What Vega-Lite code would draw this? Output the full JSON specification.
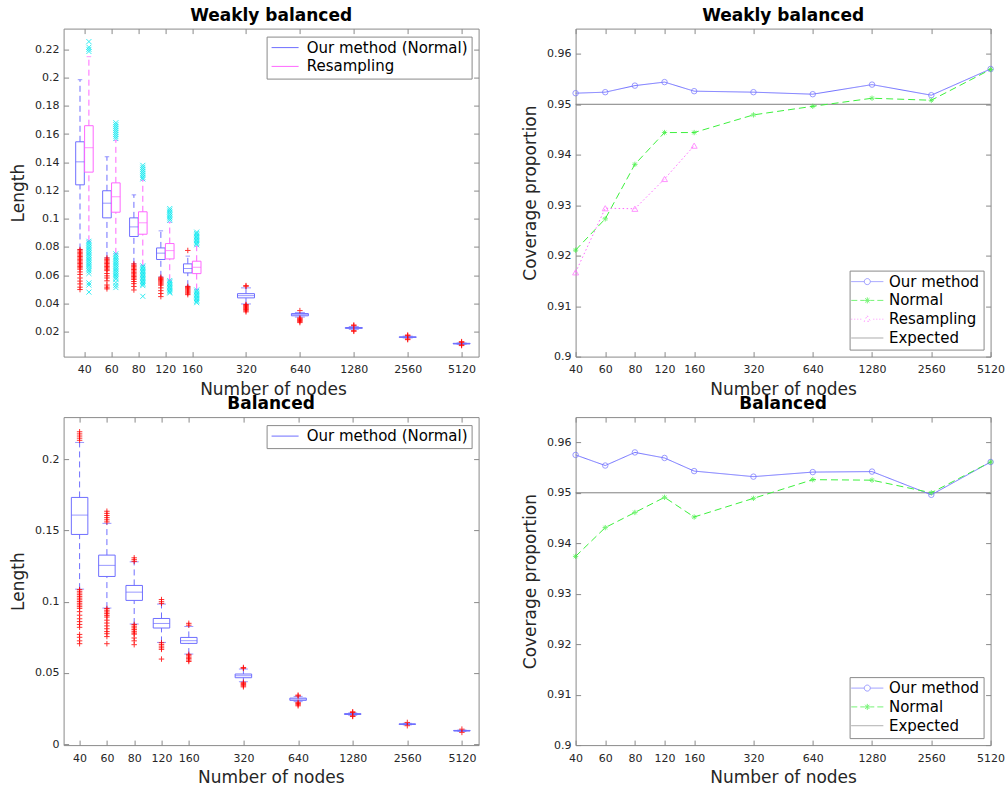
{
  "$schema": "https://vega.github.io/schema/vega-lite/v6.json",
  "padding": {"left": 8.6, "top": 5.6, "right": 0, "bottom": 0},
  "columns": 2,
  "spacing": {"row": 60.5, "column": 97},
  "bounds": "flush",
  "resolve": {"scale": {"color": "independent", "shape": "independent", "strokeDash": "independent"}, "legend": {"color": "independent", "shape": "independent", "strokeDash": "independent"}},
  "config": {
    "font": "DejaVu Sans",
    "view": {"stroke": "#8a8a8a", "strokeWidth": 1},
    "axis": {"grid": false, "domain": false, "ticks": true, "tickColor": "#8a8a8a", "tickSize": -5, "tickWidth": 1, "labelFont": "DejaVu Sans", "labelFontSize": 11, "labelColor": "#262626", "labelOverlap": false, "labelFlush": false, "titleFont": "DejaVu Sans", "titleFontSize": 17, "titleFontWeight": "normal", "titleColor": "#262626"},
    "axisX": {"labelPadding": 12, "titleY": 37.5, "titleBaseline": "alphabetic"},
    "axisY": {"labelPadding": 9.7, "titleX": -40, "titleBaseline": "alphabetic"},
    "legend": {"labelFont": "DejaVu Sans", "labelFontSize": 15, "labelColor": "#000000", "labelLimit": 400, "strokeColor": "#8a8a8a", "fillColor": "#ffffff", "padding": 3.5, "rowPadding": 2.8, "offset": 7.5, "symbolStrokeWidth": 1, "symbolSize": 196, "symbolOffset": 7.5, "labelOffset": 14.2},
    "title": {"font": "DejaVu Sans", "fontSize": 17, "fontWeight": "bold", "color": "#000000", "offset": 3.5, "baseline": "alphabetic"}
  },
  "datasets": {
    "boxTL": [
      {"method": "Our method (Normal)", "nodes": 40, "lo": 0.0782, "q1": 0.124, "med": 0.1403, "q3": 0.1545, "hi": 0.1985},
      {"method": "Resampling", "nodes": 40, "lo": 0.084, "q1": 0.133, "med": 0.1503, "q3": 0.1659, "hi": 0.2148},
      {"method": "Our method (Normal)", "nodes": 60, "lo": 0.0722, "q1": 0.1006, "med": 0.111, "q3": 0.1198, "hi": 0.1439},
      {"method": "Resampling", "nodes": 60, "lo": 0.0751, "q1": 0.1046, "med": 0.1155, "q3": 0.1254, "hi": 0.1555},
      {"method": "Our method (Normal)", "nodes": 80, "lo": 0.068, "q1": 0.0874, "med": 0.0942, "q3": 0.1006, "hi": 0.1169},
      {"method": "Resampling", "nodes": 80, "lo": 0.0668, "q1": 0.089, "med": 0.0971, "q3": 0.1049, "hi": 0.1273},
      {"method": "Our method (Normal)", "nodes": 120, "lo": 0.0588, "q1": 0.0711, "med": 0.0756, "q3": 0.0793, "hi": 0.0914},
      {"method": "Resampling", "nodes": 120, "lo": 0.0564, "q1": 0.0715, "med": 0.0774, "q3": 0.0824, "hi": 0.0975},
      {"method": "Our method (Normal)", "nodes": 160, "lo": 0.0522, "q1": 0.0616, "med": 0.0647, "q3": 0.068, "hi": 0.0735},
      {"method": "Resampling", "nodes": 160, "lo": 0.0498, "q1": 0.0611, "med": 0.0656, "q3": 0.0699, "hi": 0.0805},
      {"method": "Our method (Normal)", "nodes": 320, "lo": 0.0396, "q1": 0.0439, "med": 0.0455, "q3": 0.0469, "hi": 0.051},
      {"method": "Our method (Normal)", "nodes": 640, "lo": 0.0303, "q1": 0.0312, "med": 0.032, "q3": 0.0328, "hi": 0.0336},
      {"method": "Our method (Normal)", "nodes": 1280, "lo": 0.0216, "q1": 0.0223, "med": 0.0226, "q3": 0.0229, "hi": 0.0236},
      {"method": "Our method (Normal)", "nodes": 2560, "lo": 0.0155, "q1": 0.0159, "med": 0.0161, "q3": 0.0163, "hi": 0.0168},
      {"method": "Our method (Normal)", "nodes": 5120, "lo": 0.011, "q1": 0.0113, "med": 0.0115, "q3": 0.0117, "hi": 0.012}
    ],
    "outTL": [
      {"method": "Our method (Normal)", "nodes": 40, "value": 0.0782}, {"method": "Our method (Normal)", "nodes": 40, "value": 0.0772}, {"method": "Our method (Normal)", "nodes": 40, "value": 0.0762}, {"method": "Our method (Normal)", "nodes": 40, "value": 0.0752}, {"method": "Our method (Normal)", "nodes": 40, "value": 0.0742}, {"method": "Our method (Normal)", "nodes": 40, "value": 0.0732}, {"method": "Our method (Normal)", "nodes": 40, "value": 0.0722}, {"method": "Our method (Normal)", "nodes": 40, "value": 0.0712}, {"method": "Our method (Normal)", "nodes": 40, "value": 0.0702}, {"method": "Our method (Normal)", "nodes": 40, "value": 0.0692}, {"method": "Our method (Normal)", "nodes": 40, "value": 0.0682}, {"method": "Our method (Normal)", "nodes": 40, "value": 0.0672}, {"method": "Our method (Normal)", "nodes": 40, "value": 0.0662}, {"method": "Our method (Normal)", "nodes": 40, "value": 0.0652}, {"method": "Our method (Normal)", "nodes": 40, "value": 0.0642}, {"method": "Our method (Normal)", "nodes": 40, "value": 0.0623}, {"method": "Our method (Normal)", "nodes": 40, "value": 0.0605}, {"method": "Our method (Normal)", "nodes": 40, "value": 0.058}, {"method": "Our method (Normal)", "nodes": 40, "value": 0.0558}, {"method": "Our method (Normal)", "nodes": 40, "value": 0.0538}, {"method": "Our method (Normal)", "nodes": 40, "value": 0.0515}, {"method": "Our method (Normal)", "nodes": 40, "value": 0.0498},
      {"method": "Resampling", "nodes": 40, "value": 0.2255}, {"method": "Resampling", "nodes": 40, "value": 0.2215}, {"method": "Resampling", "nodes": 40, "value": 0.22}, {"method": "Resampling", "nodes": 40, "value": 0.2185}, {"method": "Resampling", "nodes": 40, "value": 0.084}, {"method": "Resampling", "nodes": 40, "value": 0.0828}, {"method": "Resampling", "nodes": 40, "value": 0.0816}, {"method": "Resampling", "nodes": 40, "value": 0.0804}, {"method": "Resampling", "nodes": 40, "value": 0.0792}, {"method": "Resampling", "nodes": 40, "value": 0.078}, {"method": "Resampling", "nodes": 40, "value": 0.0768}, {"method": "Resampling", "nodes": 40, "value": 0.0756}, {"method": "Resampling", "nodes": 40, "value": 0.0744}, {"method": "Resampling", "nodes": 40, "value": 0.0732}, {"method": "Resampling", "nodes": 40, "value": 0.072}, {"method": "Resampling", "nodes": 40, "value": 0.0708}, {"method": "Resampling", "nodes": 40, "value": 0.0696}, {"method": "Resampling", "nodes": 40, "value": 0.0684}, {"method": "Resampling", "nodes": 40, "value": 0.0672}, {"method": "Resampling", "nodes": 40, "value": 0.066}, {"method": "Resampling", "nodes": 40, "value": 0.0645}, {"method": "Resampling", "nodes": 40, "value": 0.063}, {"method": "Resampling", "nodes": 40, "value": 0.0612}, {"method": "Resampling", "nodes": 40, "value": 0.0545}, {"method": "Resampling", "nodes": 40, "value": 0.053}, {"method": "Resampling", "nodes": 40, "value": 0.048},
      {"method": "Our method (Normal)", "nodes": 60, "value": 0.0722}, {"method": "Our method (Normal)", "nodes": 60, "value": 0.0712}, {"method": "Our method (Normal)", "nodes": 60, "value": 0.0702}, {"method": "Our method (Normal)", "nodes": 60, "value": 0.0692}, {"method": "Our method (Normal)", "nodes": 60, "value": 0.0682}, {"method": "Our method (Normal)", "nodes": 60, "value": 0.0672}, {"method": "Our method (Normal)", "nodes": 60, "value": 0.0662}, {"method": "Our method (Normal)", "nodes": 60, "value": 0.0652}, {"method": "Our method (Normal)", "nodes": 60, "value": 0.0642}, {"method": "Our method (Normal)", "nodes": 60, "value": 0.0632}, {"method": "Our method (Normal)", "nodes": 60, "value": 0.0612}, {"method": "Our method (Normal)", "nodes": 60, "value": 0.0595}, {"method": "Our method (Normal)", "nodes": 60, "value": 0.058}, {"method": "Our method (Normal)", "nodes": 60, "value": 0.056}, {"method": "Our method (Normal)", "nodes": 60, "value": 0.053}, {"method": "Our method (Normal)", "nodes": 60, "value": 0.0515}, {"method": "Our method (Normal)", "nodes": 60, "value": 0.0503},
      {"method": "Resampling", "nodes": 60, "value": 0.168}, {"method": "Resampling", "nodes": 60, "value": 0.1666}, {"method": "Resampling", "nodes": 60, "value": 0.1652}, {"method": "Resampling", "nodes": 60, "value": 0.1638}, {"method": "Resampling", "nodes": 60, "value": 0.1624}, {"method": "Resampling", "nodes": 60, "value": 0.161}, {"method": "Resampling", "nodes": 60, "value": 0.1596}, {"method": "Resampling", "nodes": 60, "value": 0.1582}, {"method": "Resampling", "nodes": 60, "value": 0.1568}, {"method": "Resampling", "nodes": 60, "value": 0.0751}, {"method": "Resampling", "nodes": 60, "value": 0.0739}, {"method": "Resampling", "nodes": 60, "value": 0.0727}, {"method": "Resampling", "nodes": 60, "value": 0.0715}, {"method": "Resampling", "nodes": 60, "value": 0.0703}, {"method": "Resampling", "nodes": 60, "value": 0.0691}, {"method": "Resampling", "nodes": 60, "value": 0.0679}, {"method": "Resampling", "nodes": 60, "value": 0.0667}, {"method": "Resampling", "nodes": 60, "value": 0.0655}, {"method": "Resampling", "nodes": 60, "value": 0.0643}, {"method": "Resampling", "nodes": 60, "value": 0.0631}, {"method": "Resampling", "nodes": 60, "value": 0.0619}, {"method": "Resampling", "nodes": 60, "value": 0.0607}, {"method": "Resampling", "nodes": 60, "value": 0.0595}, {"method": "Resampling", "nodes": 60, "value": 0.0583}, {"method": "Resampling", "nodes": 60, "value": 0.0571}, {"method": "Resampling", "nodes": 60, "value": 0.0548}, {"method": "Resampling", "nodes": 60, "value": 0.0528}, {"method": "Resampling", "nodes": 60, "value": 0.0512},
      {"method": "Our method (Normal)", "nodes": 80, "value": 0.068}, {"method": "Our method (Normal)", "nodes": 80, "value": 0.067}, {"method": "Our method (Normal)", "nodes": 80, "value": 0.066}, {"method": "Our method (Normal)", "nodes": 80, "value": 0.065}, {"method": "Our method (Normal)", "nodes": 80, "value": 0.064}, {"method": "Our method (Normal)", "nodes": 80, "value": 0.063}, {"method": "Our method (Normal)", "nodes": 80, "value": 0.062}, {"method": "Our method (Normal)", "nodes": 80, "value": 0.061}, {"method": "Our method (Normal)", "nodes": 80, "value": 0.06}, {"method": "Our method (Normal)", "nodes": 80, "value": 0.059}, {"method": "Our method (Normal)", "nodes": 80, "value": 0.058}, {"method": "Our method (Normal)", "nodes": 80, "value": 0.057}, {"method": "Our method (Normal)", "nodes": 80, "value": 0.0555}, {"method": "Our method (Normal)", "nodes": 80, "value": 0.054}, {"method": "Our method (Normal)", "nodes": 80, "value": 0.052}, {"method": "Our method (Normal)", "nodes": 80, "value": 0.0495},
      {"method": "Resampling", "nodes": 80, "value": 0.1378}, {"method": "Resampling", "nodes": 80, "value": 0.1364}, {"method": "Resampling", "nodes": 80, "value": 0.135}, {"method": "Resampling", "nodes": 80, "value": 0.1336}, {"method": "Resampling", "nodes": 80, "value": 0.1322}, {"method": "Resampling", "nodes": 80, "value": 0.1308}, {"method": "Resampling", "nodes": 80, "value": 0.1294}, {"method": "Resampling", "nodes": 80, "value": 0.1282}, {"method": "Resampling", "nodes": 80, "value": 0.0666}, {"method": "Resampling", "nodes": 80, "value": 0.0656}, {"method": "Resampling", "nodes": 80, "value": 0.0646}, {"method": "Resampling", "nodes": 80, "value": 0.0636}, {"method": "Resampling", "nodes": 80, "value": 0.0626}, {"method": "Resampling", "nodes": 80, "value": 0.0616}, {"method": "Resampling", "nodes": 80, "value": 0.0606}, {"method": "Resampling", "nodes": 80, "value": 0.0596}, {"method": "Resampling", "nodes": 80, "value": 0.0586}, {"method": "Resampling", "nodes": 80, "value": 0.0576}, {"method": "Resampling", "nodes": 80, "value": 0.0566}, {"method": "Resampling", "nodes": 80, "value": 0.0556}, {"method": "Resampling", "nodes": 80, "value": 0.0546}, {"method": "Resampling", "nodes": 80, "value": 0.0536}, {"method": "Resampling", "nodes": 80, "value": 0.0526}, {"method": "Resampling", "nodes": 80, "value": 0.045},
      {"method": "Our method (Normal)", "nodes": 120, "value": 0.0585}, {"method": "Our method (Normal)", "nodes": 120, "value": 0.0577}, {"method": "Our method (Normal)", "nodes": 120, "value": 0.0569}, {"method": "Our method (Normal)", "nodes": 120, "value": 0.0561}, {"method": "Our method (Normal)", "nodes": 120, "value": 0.0553}, {"method": "Our method (Normal)", "nodes": 120, "value": 0.0545}, {"method": "Our method (Normal)", "nodes": 120, "value": 0.0537}, {"method": "Our method (Normal)", "nodes": 120, "value": 0.0529}, {"method": "Our method (Normal)", "nodes": 120, "value": 0.051}, {"method": "Our method (Normal)", "nodes": 120, "value": 0.049}, {"method": "Our method (Normal)", "nodes": 120, "value": 0.047}, {"method": "Our method (Normal)", "nodes": 120, "value": 0.0448},
      {"method": "Resampling", "nodes": 120, "value": 0.1072}, {"method": "Resampling", "nodes": 120, "value": 0.106}, {"method": "Resampling", "nodes": 120, "value": 0.1048}, {"method": "Resampling", "nodes": 120, "value": 0.1036}, {"method": "Resampling", "nodes": 120, "value": 0.1024}, {"method": "Resampling", "nodes": 120, "value": 0.1012}, {"method": "Resampling", "nodes": 120, "value": 0.1}, {"method": "Resampling", "nodes": 120, "value": 0.0988}, {"method": "Resampling", "nodes": 120, "value": 0.0562}, {"method": "Resampling", "nodes": 120, "value": 0.0552}, {"method": "Resampling", "nodes": 120, "value": 0.0542}, {"method": "Resampling", "nodes": 120, "value": 0.0532}, {"method": "Resampling", "nodes": 120, "value": 0.0522}, {"method": "Resampling", "nodes": 120, "value": 0.0512}, {"method": "Resampling", "nodes": 120, "value": 0.0502}, {"method": "Resampling", "nodes": 120, "value": 0.0492}, {"method": "Resampling", "nodes": 120, "value": 0.0482}, {"method": "Resampling", "nodes": 120, "value": 0.0474},
      {"method": "Our method (Normal)", "nodes": 160, "value": 0.0775}, {"method": "Our method (Normal)", "nodes": 160, "value": 0.052}, {"method": "Our method (Normal)", "nodes": 160, "value": 0.0512}, {"method": "Our method (Normal)", "nodes": 160, "value": 0.0504}, {"method": "Our method (Normal)", "nodes": 160, "value": 0.0496}, {"method": "Our method (Normal)", "nodes": 160, "value": 0.0488}, {"method": "Our method (Normal)", "nodes": 160, "value": 0.048}, {"method": "Our method (Normal)", "nodes": 160, "value": 0.0472}, {"method": "Our method (Normal)", "nodes": 160, "value": 0.0462},
      {"method": "Resampling", "nodes": 160, "value": 0.0905}, {"method": "Resampling", "nodes": 160, "value": 0.0895}, {"method": "Resampling", "nodes": 160, "value": 0.0885}, {"method": "Resampling", "nodes": 160, "value": 0.0875}, {"method": "Resampling", "nodes": 160, "value": 0.0865}, {"method": "Resampling", "nodes": 160, "value": 0.0855}, {"method": "Resampling", "nodes": 160, "value": 0.0845}, {"method": "Resampling", "nodes": 160, "value": 0.0835}, {"method": "Resampling", "nodes": 160, "value": 0.0825}, {"method": "Resampling", "nodes": 160, "value": 0.0815}, {"method": "Resampling", "nodes": 160, "value": 0.0495}, {"method": "Resampling", "nodes": 160, "value": 0.0485}, {"method": "Resampling", "nodes": 160, "value": 0.0475}, {"method": "Resampling", "nodes": 160, "value": 0.0465}, {"method": "Resampling", "nodes": 160, "value": 0.0455}, {"method": "Resampling", "nodes": 160, "value": 0.0445}, {"method": "Resampling", "nodes": 160, "value": 0.0435}, {"method": "Resampling", "nodes": 160, "value": 0.0425}, {"method": "Resampling", "nodes": 160, "value": 0.0415}, {"method": "Resampling", "nodes": 160, "value": 0.0405},
      {"method": "Our method (Normal)", "nodes": 320, "value": 0.0526}, {"method": "Our method (Normal)", "nodes": 320, "value": 0.0521}, {"method": "Our method (Normal)", "nodes": 320, "value": 0.0392}, {"method": "Our method (Normal)", "nodes": 320, "value": 0.0386}, {"method": "Our method (Normal)", "nodes": 320, "value": 0.038}, {"method": "Our method (Normal)", "nodes": 320, "value": 0.0374}, {"method": "Our method (Normal)", "nodes": 320, "value": 0.0368}, {"method": "Our method (Normal)", "nodes": 320, "value": 0.0362}, {"method": "Our method (Normal)", "nodes": 320, "value": 0.0356}, {"method": "Our method (Normal)", "nodes": 320, "value": 0.0348}, {"method": "Our method (Normal)", "nodes": 320, "value": 0.034},
      {"method": "Our method (Normal)", "nodes": 640, "value": 0.0349}, {"method": "Our method (Normal)", "nodes": 640, "value": 0.0297}, {"method": "Our method (Normal)", "nodes": 640, "value": 0.0291}, {"method": "Our method (Normal)", "nodes": 640, "value": 0.0285}, {"method": "Our method (Normal)", "nodes": 640, "value": 0.0279}, {"method": "Our method (Normal)", "nodes": 640, "value": 0.0272}, {"method": "Our method (Normal)", "nodes": 640, "value": 0.0264},
      {"method": "Our method (Normal)", "nodes": 1280, "value": 0.0247}, {"method": "Our method (Normal)", "nodes": 1280, "value": 0.0242}, {"method": "Our method (Normal)", "nodes": 1280, "value": 0.0207}, {"method": "Our method (Normal)", "nodes": 1280, "value": 0.0202},
      {"method": "Our method (Normal)", "nodes": 2560, "value": 0.0176}, {"method": "Our method (Normal)", "nodes": 2560, "value": 0.0171}, {"method": "Our method (Normal)", "nodes": 2560, "value": 0.0148}, {"method": "Our method (Normal)", "nodes": 2560, "value": 0.0143},
      {"method": "Our method (Normal)", "nodes": 5120, "value": 0.0129}, {"method": "Our method (Normal)", "nodes": 5120, "value": 0.0124}, {"method": "Our method (Normal)", "nodes": 5120, "value": 0.0106}, {"method": "Our method (Normal)", "nodes": 5120, "value": 0.0101}
    ],
    "boxBL": [
      {"method": "Our method (Normal)", "nodes": 40, "lo": 0.1088, "q1": 0.1472, "med": 0.1608, "q3": 0.1732, "hi": 0.2118},
      {"method": "Our method (Normal)", "nodes": 60, "lo": 0.0955, "q1": 0.1177, "med": 0.1255, "q3": 0.1327, "hi": 0.155},
      {"method": "Our method (Normal)", "nodes": 80, "lo": 0.0843, "q1": 0.1009, "med": 0.1067, "q3": 0.1114, "hi": 0.128},
      {"method": "Our method (Normal)", "nodes": 120, "lo": 0.0714, "q1": 0.0815, "med": 0.0847, "q3": 0.0882, "hi": 0.0983},
      {"method": "Our method (Normal)", "nodes": 160, "lo": 0.0632, "q1": 0.0707, "med": 0.0726, "q3": 0.0749, "hi": 0.0826},
      {"method": "Our method (Normal)", "nodes": 320, "lo": 0.0438, "q1": 0.0466, "med": 0.048, "q3": 0.0492, "hi": 0.0527},
      {"method": "Our method (Normal)", "nodes": 640, "lo": 0.0298, "q1": 0.0307, "med": 0.0316, "q3": 0.0323, "hi": 0.0335},
      {"method": "Our method (Normal)", "nodes": 1280, "lo": 0.0203, "q1": 0.0208, "med": 0.0211, "q3": 0.0214, "hi": 0.0219},
      {"method": "Our method (Normal)", "nodes": 2560, "lo": 0.0135, "q1": 0.0138, "med": 0.014, "q3": 0.0142, "hi": 0.0146},
      {"method": "Our method (Normal)", "nodes": 5120, "lo": 0.0089, "q1": 0.0092, "med": 0.0094, "q3": 0.0096, "hi": 0.0099}
    ],
    "outBL": [
      {"nodes": 40, "value": 0.2193}, {"nodes": 40, "value": 0.2178}, {"nodes": 40, "value": 0.2163}, {"nodes": 40, "value": 0.2148}, {"nodes": 40, "value": 0.2133}, {"nodes": 40, "value": 0.1085}, {"nodes": 40, "value": 0.1073}, {"nodes": 40, "value": 0.1061}, {"nodes": 40, "value": 0.1049}, {"nodes": 40, "value": 0.1037}, {"nodes": 40, "value": 0.1025}, {"nodes": 40, "value": 0.1013}, {"nodes": 40, "value": 0.1001}, {"nodes": 40, "value": 0.0989}, {"nodes": 40, "value": 0.0977}, {"nodes": 40, "value": 0.0965}, {"nodes": 40, "value": 0.0953}, {"nodes": 40, "value": 0.093}, {"nodes": 40, "value": 0.0905}, {"nodes": 40, "value": 0.088}, {"nodes": 40, "value": 0.086}, {"nodes": 40, "value": 0.084}, {"nodes": 40, "value": 0.082}, {"nodes": 40, "value": 0.077}, {"nodes": 40, "value": 0.075}, {"nodes": 40, "value": 0.0725}, {"nodes": 40, "value": 0.0705},
      {"nodes": 60, "value": 0.1635}, {"nodes": 60, "value": 0.162}, {"nodes": 60, "value": 0.1605}, {"nodes": 60, "value": 0.159}, {"nodes": 60, "value": 0.1575}, {"nodes": 60, "value": 0.156}, {"nodes": 60, "value": 0.0952}, {"nodes": 60, "value": 0.094}, {"nodes": 60, "value": 0.0928}, {"nodes": 60, "value": 0.0916}, {"nodes": 60, "value": 0.0904}, {"nodes": 60, "value": 0.0892}, {"nodes": 60, "value": 0.087}, {"nodes": 60, "value": 0.085}, {"nodes": 60, "value": 0.083}, {"nodes": 60, "value": 0.081}, {"nodes": 60, "value": 0.079}, {"nodes": 60, "value": 0.0775}, {"nodes": 60, "value": 0.0755}, {"nodes": 60, "value": 0.0705},
      {"nodes": 80, "value": 0.1308}, {"nodes": 80, "value": 0.1295}, {"nodes": 80, "value": 0.1283}, {"nodes": 80, "value": 0.084}, {"nodes": 80, "value": 0.0828}, {"nodes": 80, "value": 0.0816}, {"nodes": 80, "value": 0.0804}, {"nodes": 80, "value": 0.0792}, {"nodes": 80, "value": 0.078}, {"nodes": 80, "value": 0.0772}, {"nodes": 80, "value": 0.0745}, {"nodes": 80, "value": 0.0725}, {"nodes": 80, "value": 0.0698},
      {"nodes": 120, "value": 0.1015}, {"nodes": 120, "value": 0.1}, {"nodes": 120, "value": 0.0988}, {"nodes": 120, "value": 0.0712}, {"nodes": 120, "value": 0.07}, {"nodes": 120, "value": 0.0688}, {"nodes": 120, "value": 0.0676}, {"nodes": 120, "value": 0.0665}, {"nodes": 120, "value": 0.0597},
      {"nodes": 160, "value": 0.0848}, {"nodes": 160, "value": 0.0835}, {"nodes": 160, "value": 0.063}, {"nodes": 160, "value": 0.062}, {"nodes": 160, "value": 0.061}, {"nodes": 160, "value": 0.06}, {"nodes": 160, "value": 0.059}, {"nodes": 160, "value": 0.058},
      {"nodes": 320, "value": 0.0538}, {"nodes": 320, "value": 0.0532}, {"nodes": 320, "value": 0.0434}, {"nodes": 320, "value": 0.0426}, {"nodes": 320, "value": 0.0418}, {"nodes": 320, "value": 0.041}, {"nodes": 320, "value": 0.0402},
      {"nodes": 640, "value": 0.0344}, {"nodes": 640, "value": 0.0338}, {"nodes": 640, "value": 0.0293}, {"nodes": 640, "value": 0.0285}, {"nodes": 640, "value": 0.0277}, {"nodes": 640, "value": 0.0269},
      {"nodes": 1280, "value": 0.0227}, {"nodes": 1280, "value": 0.0222}, {"nodes": 1280, "value": 0.0198}, {"nodes": 1280, "value": 0.0194},
      {"nodes": 2560, "value": 0.0152}, {"nodes": 2560, "value": 0.0129},
      {"nodes": 5120, "value": 0.0105}, {"nodes": 5120, "value": 0.0082}
    ],
    "covTR": [
      {"method": "Our method", "nodes": 40, "coverage": 0.9522}, {"method": "Our method", "nodes": 60, "coverage": 0.9524}, {"method": "Our method", "nodes": 80, "coverage": 0.9537}, {"method": "Our method", "nodes": 120, "coverage": 0.9544}, {"method": "Our method", "nodes": 160, "coverage": 0.9526}, {"method": "Our method", "nodes": 320, "coverage": 0.9524}, {"method": "Our method", "nodes": 640, "coverage": 0.952}, {"method": "Our method", "nodes": 1280, "coverage": 0.9539}, {"method": "Our method", "nodes": 2560, "coverage": 0.9518}, {"method": "Our method", "nodes": 5120, "coverage": 0.957},
      {"method": "Normal", "nodes": 40, "coverage": 0.9211}, {"method": "Normal", "nodes": 60, "coverage": 0.9273}, {"method": "Normal", "nodes": 80, "coverage": 0.9381}, {"method": "Normal", "nodes": 120, "coverage": 0.9444}, {"method": "Normal", "nodes": 160, "coverage": 0.9444}, {"method": "Normal", "nodes": 320, "coverage": 0.9479}, {"method": "Normal", "nodes": 640, "coverage": 0.9496}, {"method": "Normal", "nodes": 1280, "coverage": 0.9512}, {"method": "Normal", "nodes": 2560, "coverage": 0.9508}, {"method": "Normal", "nodes": 5120, "coverage": 0.9569},
      {"method": "Resampling", "nodes": 40, "coverage": 0.9167}, {"method": "Resampling", "nodes": 60, "coverage": 0.9294}, {"method": "Resampling", "nodes": 80, "coverage": 0.9293}, {"method": "Resampling", "nodes": 120, "coverage": 0.9352}, {"method": "Resampling", "nodes": 160, "coverage": 0.9418}
    ],
    "covBR": [
      {"method": "Our method", "nodes": 40, "coverage": 0.9575}, {"method": "Our method", "nodes": 60, "coverage": 0.9554}, {"method": "Our method", "nodes": 80, "coverage": 0.958}, {"method": "Our method", "nodes": 120, "coverage": 0.9569}, {"method": "Our method", "nodes": 160, "coverage": 0.9543}, {"method": "Our method", "nodes": 320, "coverage": 0.9532}, {"method": "Our method", "nodes": 640, "coverage": 0.9541}, {"method": "Our method", "nodes": 1280, "coverage": 0.9542}, {"method": "Our method", "nodes": 2560, "coverage": 0.9496}, {"method": "Our method", "nodes": 5120, "coverage": 0.9561},
      {"method": "Normal", "nodes": 40, "coverage": 0.9374}, {"method": "Normal", "nodes": 60, "coverage": 0.9431}, {"method": "Normal", "nodes": 80, "coverage": 0.9461}, {"method": "Normal", "nodes": 120, "coverage": 0.9491}, {"method": "Normal", "nodes": 160, "coverage": 0.9452}, {"method": "Normal", "nodes": 320, "coverage": 0.9489}, {"method": "Normal", "nodes": 640, "coverage": 0.9526}, {"method": "Normal", "nodes": 1280, "coverage": 0.9525}, {"method": "Normal", "nodes": 2560, "coverage": 0.95}, {"method": "Normal", "nodes": 5120, "coverage": 0.9561}
    ],
    "expected": [{"method": "Expected", "coverage": 0.95}]
  },
  "concat": [
    {
      "width": 415, "height": 328,
      "title": {"text": "Weakly balanced"},
      "layer": [
        {"data": {"name": "boxTL"},
         "mark": {"type": "bar", "filled": false, "strokeWidth": 1, "width": {"expr": "datum.nodes >= 320 ? 17 : 8.6"}, "xOffset": {"expr": "datum.nodes >= 320 ? 0 : (datum.method === 'Resampling' ? 4.6 : -4.3)"}},
         "encoding": {
           "x": {"field": "nodes", "type": "quantitative", "scale": {"domain": [40, 80, 160, 320, 640, 1280, 2560, 5120], "range": [20.7, 74.6, 128.5, 182.4, 236.3, 290.2, 344.1, 398], "nice": false, "zero": false, "padding": 0}, "axis": {"orient": "bottom", "values": [40, 60, 80, 120, 160, 320, 640, 1280, 2560, 5120], "format": "d", "title": "Number of nodes"}},
           "y": {"field": "q1", "type": "quantitative", "scale": {"domain": [0.0023, 0.2347], "nice": false, "zero": false, "padding": 0}, "axis": {"orient": "left", "values": [0.02, 0.04, 0.06, 0.08, 0.1, 0.12, 0.14, 0.16, 0.18, 0.2, 0.22], "format": "~g", "title": "Length"}},
           "y2": {"field": "q3"},
           "color": {"field": "method", "type": "nominal", "scale": {"domain": ["Our method (Normal)", "Resampling"], "range": ["#6e6eff", "#ff66ff"]}, "legend": {"title": null, "orient": "top-right", "symbolType": "M-1.93,0H1.93", "symbolOffset": 7.5}}
         }},
        {"data": {"name": "boxTL"},
         "mark": {"type": "tick", "orient": "horizontal", "thickness": 1, "size": {"expr": "datum.nodes >= 320 ? 17 : 8.6"}, "xOffset": {"expr": "datum.nodes >= 320 ? 0 : (datum.method === 'Resampling' ? 4.6 : -4.3)"}},
         "encoding": {
           "x": {"field": "nodes", "type": "quantitative", "axis": null},
           "y": {"field": "med", "type": "quantitative", "axis": null},
           "color": {"field": "method", "type": "nominal", "legend": null}
         }},
        {"data": {"name": "boxTL"},
         "mark": {"type": "rule", "strokeWidth": 1, "strokeDash": [6, 4], "xOffset": {"expr": "datum.nodes >= 320 ? 0 : (datum.method === 'Resampling' ? 4.6 : -4.3)"}},
         "encoding": {
           "x": {"field": "nodes", "type": "quantitative", "axis": null},
           "y": {"field": "q3", "type": "quantitative", "axis": null},
           "y2": {"field": "hi"},
           "color": {"field": "method", "type": "nominal", "legend": null}
         }},
        {"data": {"name": "boxTL"},
         "mark": {"type": "rule", "strokeWidth": 1, "strokeDash": [6, 4], "xOffset": {"expr": "datum.nodes >= 320 ? 0 : (datum.method === 'Resampling' ? 4.6 : -4.3)"}},
         "encoding": {
           "x": {"field": "nodes", "type": "quantitative", "axis": null},
           "y": {"field": "lo", "type": "quantitative", "axis": null},
           "y2": {"field": "q1"},
           "color": {"field": "method", "type": "nominal", "legend": null}
         }},
        {"data": {"name": "boxTL"},
         "mark": {"type": "tick", "orient": "horizontal", "thickness": 1, "size": {"expr": "datum.nodes >= 320 ? 10 : 4.5"}, "xOffset": {"expr": "datum.nodes >= 320 ? 0 : (datum.method === 'Resampling' ? 4.6 : -4.3)"}},
         "encoding": {
           "x": {"field": "nodes", "type": "quantitative", "axis": null},
           "y": {"field": "hi", "type": "quantitative", "axis": null},
           "color": {"field": "method", "type": "nominal", "legend": null}
         }},
        {"data": {"name": "boxTL"},
         "mark": {"type": "tick", "orient": "horizontal", "thickness": 1, "size": {"expr": "datum.nodes >= 320 ? 10 : 4.5"}, "xOffset": {"expr": "datum.nodes >= 320 ? 0 : (datum.method === 'Resampling' ? 4.6 : -4.3)"}},
         "encoding": {
           "x": {"field": "nodes", "type": "quantitative", "axis": null},
           "y": {"field": "lo", "type": "quantitative", "axis": null},
           "color": {"field": "method", "type": "nominal", "legend": null}
         }},
        {"data": {"name": "outTL"},
         "transform": [{"filter": "datum.method === 'Our method (Normal)'"}],
         "mark": {"type": "point", "shape": "M-1,0H1M0,-1V1", "size": 30, "filled": false, "color": "#ff0000", "strokeWidth": 1, "opacity": 0.8, "xOffset": {"expr": "datum.nodes >= 320 ? 0 : -4.3"}},
         "encoding": {
           "x": {"field": "nodes", "type": "quantitative", "axis": {"orient": "top", "values": [40, 60, 80, 120, 160, 320, 640, 1280, 2560, 5120], "labels": false, "title": null}},
           "y": {"field": "value", "type": "quantitative", "axis": {"orient": "right", "values": [0.02, 0.04, 0.06, 0.08, 0.1, 0.12, 0.14, 0.16, 0.18, 0.2, 0.22], "labels": false, "title": null}}
         }},
        {"data": {"name": "outTL"},
         "transform": [{"filter": "datum.method === 'Resampling'"}],
         "mark": {"type": "point", "shape": "M-1,-1L1,1M-1,1L1,-1", "size": 25, "filled": false, "color": "#00e8f0", "strokeWidth": 1, "opacity": 0.8, "xOffset": 4.6},
         "encoding": {
           "x": {"field": "nodes", "type": "quantitative", "axis": null},
           "y": {"field": "value", "type": "quantitative", "axis": null}
         }}
      ]
    },
    {
      "width": 415, "height": 328,
      "title": {"text": "Weakly balanced"},
      "layer": [
        {"data": {"name": "covTR"},
         "mark": {"type": "point", "filled": false, "strokeWidth": 1, "size": 0},
         "encoding": {
           "x": {"field": "nodes", "type": "quantitative", "scale": {"domain": [40, 80, 160, 320, 640, 1280, 2560, 5120], "range": [0, 59.29, 118.57, 177.86, 237.14, 296.43, 355.71, 415], "nice": false, "zero": false, "padding": 0}, "axis": null},
           "y": {"field": "coverage", "type": "quantitative", "scale": {"domain": [0.9, 0.965], "nice": false, "zero": false, "padding": 0}, "axis": null},
           "color": {"field": "method", "type": "nominal", "scale": {"domain": ["Our method", "Normal", "Resampling", "Expected"], "range": ["#6e6eff", "#3cf03c", "#ff66ff", "#808080"]}, "legend": {"title": null, "orient": "bottom-right", "symbolOffset": 6.7}},
           "shape": {"field": "method", "type": "nominal", "scale": {"domain": ["Our method", "Normal", "Resampling", "Expected"], "range": ["M-2.29,0H-0.43M0.43,0H2.29M0.43,0A0.43,0.43,0,1,1,-0.43,0A0.43,0.43,0,1,1,0.43,0", "M-2.29,0H-1.43M-1,0H-0.43M0.43,0H1M1.43,0H2.29M-0.43,0H0.43M0,-0.43V0.43M-0.3,-0.3L0.3,0.3M-0.3,0.3L0.3,-0.3", "M-2.29,0H-2.15M-1.86,0H-1.72M-1.43,0H-1.29M-1,0H-0.86M0.86,0H1M1.29,0H1.43M1.72,0H1.86M2.15,0H2.29M0,-0.5L0.45,0.3H-0.45Z", "M-2.29,0H2.29"]}, "legend": {"title": null, "orient": "bottom-right", "symbolOffset": 6.7}}
         }},
        {"data": {"name": "expected"},
         "mark": {"type": "rule", "strokeWidth": 1},
         "encoding": {
           "y": {"field": "coverage", "type": "quantitative", "axis": null},
           "color": {"field": "method", "type": "nominal", "legend": null}
         }},
        {"data": {"name": "covTR"},
         "mark": {"type": "line", "strokeWidth": 1},
         "encoding": {
           "x": {"field": "nodes", "type": "quantitative", "axis": {"orient": "bottom", "values": [40, 60, 80, 120, 160, 320, 640, 1280, 2560, 5120], "format": "d", "title": "Number of nodes"}},
           "y": {"field": "coverage", "type": "quantitative", "axis": {"orient": "left", "values": [0.9, 0.91, 0.92, 0.93, 0.94, 0.95, 0.96], "format": "~g", "title": "Coverage proportion"}},
           "color": {"field": "method", "type": "nominal", "legend": null},
           "strokeDash": {"field": "method", "type": "nominal", "scale": {"domain": ["Our method", "Normal", "Resampling", "Expected"], "range": [[1, 0], [7, 4], [1.5, 2.5], [1, 0]]}, "legend": null}
         }},
        {"data": {"name": "covTR"},
         "transform": [{"filter": "datum.method === 'Our method'"}],
         "mark": {"type": "point", "shape": "circle", "size": 30, "filled": false, "strokeWidth": 1},
         "encoding": {
           "x": {"field": "nodes", "type": "quantitative", "axis": {"orient": "top", "values": [40, 60, 80, 120, 160, 320, 640, 1280, 2560, 5120], "labels": false, "title": null}},
           "y": {"field": "coverage", "type": "quantitative", "axis": {"orient": "right", "values": [0.9, 0.91, 0.92, 0.93, 0.94, 0.95, 0.96], "labels": false, "title": null}},
           "color": {"field": "method", "type": "nominal", "legend": null}
         }},
        {"data": {"name": "covTR"},
         "transform": [{"filter": "datum.method === 'Normal'"}],
         "mark": {"type": "point", "shape": "M-1,0H1M0,-1V1M-0.7,-0.7L0.7,0.7M-0.7,0.7L0.7,-0.7", "size": 28, "filled": false, "strokeWidth": 1},
         "encoding": {
           "x": {"field": "nodes", "type": "quantitative", "axis": null},
           "y": {"field": "coverage", "type": "quantitative", "axis": null},
           "color": {"field": "method", "type": "nominal", "legend": null}
         }},
        {"data": {"name": "covTR"},
         "transform": [{"filter": "datum.method === 'Resampling'"}],
         "mark": {"type": "point", "shape": "triangle-up", "size": 36, "filled": false, "strokeWidth": 1},
         "encoding": {
           "x": {"field": "nodes", "type": "quantitative", "axis": null},
           "y": {"field": "coverage", "type": "quantitative", "axis": null},
           "color": {"field": "method", "type": "nominal", "legend": null}
         }}
      ]
    },
    {
      "width": 415, "height": 328,
      "title": {"text": "Balanced"},
      "layer": [
        {"data": {"name": "boxBL"},
         "mark": {"type": "bar", "filled": false, "strokeWidth": 1, "width": 16.5},
         "encoding": {
           "x": {"field": "nodes", "type": "quantitative", "scale": {"domain": [40, 80, 160, 320, 640, 1280, 2560, 5120], "range": [16, 70.6, 125.2, 179.8, 234.5, 289.1, 343.7, 398.3], "nice": false, "zero": false, "padding": 0}, "axis": {"orient": "bottom", "values": [40, 60, 80, 120, 160, 320, 640, 1280, 2560, 5120], "format": "d", "title": "Number of nodes"}},
           "y": {"field": "q1", "type": "quantitative", "scale": {"domain": [-0.0007, 0.2296], "nice": false, "zero": false, "padding": 0}, "axis": {"orient": "left", "values": [0, 0.05, 0.1, 0.15, 0.2], "format": "~g", "title": "Length"}},
           "y2": {"field": "q3"},
           "color": {"field": "method", "type": "nominal", "scale": {"domain": ["Our method (Normal)"], "range": ["#6e6eff"]}, "legend": {"title": null, "orient": "top-right", "symbolType": "M-1.93,0H1.93", "symbolOffset": 7.5}}
         }},
        {"data": {"name": "boxBL"},
         "mark": {"type": "tick", "orient": "horizontal", "thickness": 1, "size": 16.5},
         "encoding": {
           "x": {"field": "nodes", "type": "quantitative", "axis": null},
           "y": {"field": "med", "type": "quantitative", "axis": null},
           "color": {"field": "method", "type": "nominal", "legend": null}
         }},
        {"data": {"name": "boxBL"},
         "mark": {"type": "rule", "strokeWidth": 1, "strokeDash": [6, 4]},
         "encoding": {
           "x": {"field": "nodes", "type": "quantitative", "axis": null},
           "y": {"field": "q3", "type": "quantitative", "axis": null},
           "y2": {"field": "hi"},
           "color": {"field": "method", "type": "nominal", "legend": null}
         }},
        {"data": {"name": "boxBL"},
         "mark": {"type": "rule", "strokeWidth": 1, "strokeDash": [6, 4]},
         "encoding": {
           "x": {"field": "nodes", "type": "quantitative", "axis": null},
           "y": {"field": "lo", "type": "quantitative", "axis": null},
           "y2": {"field": "q1"},
           "color": {"field": "method", "type": "nominal", "legend": null}
         }},
        {"data": {"name": "boxBL"},
         "mark": {"type": "tick", "orient": "horizontal", "thickness": 1, "size": 9},
         "encoding": {
           "x": {"field": "nodes", "type": "quantitative", "axis": null},
           "y": {"field": "hi", "type": "quantitative", "axis": null},
           "color": {"field": "method", "type": "nominal", "legend": null}
         }},
        {"data": {"name": "boxBL"},
         "mark": {"type": "tick", "orient": "horizontal", "thickness": 1, "size": 9},
         "encoding": {
           "x": {"field": "nodes", "type": "quantitative", "axis": null},
           "y": {"field": "lo", "type": "quantitative", "axis": null},
           "color": {"field": "method", "type": "nominal", "legend": null}
         }},
        {"data": {"name": "outBL"},
         "mark": {"type": "point", "shape": "M-1,0H1M0,-1V1", "size": 30, "filled": false, "color": "#ff0000", "strokeWidth": 1, "opacity": 0.8},
         "encoding": {
           "x": {"field": "nodes", "type": "quantitative", "axis": {"orient": "top", "values": [40, 60, 80, 120, 160, 320, 640, 1280, 2560, 5120], "labels": false, "title": null}},
           "y": {"field": "value", "type": "quantitative", "axis": {"orient": "right", "values": [0, 0.05, 0.1, 0.15, 0.2], "labels": false, "title": null}}
         }}
      ]
    },
    {
      "width": 415, "height": 328,
      "title": {"text": "Balanced"},
      "layer": [
        {"data": {"name": "covBR"},
         "mark": {"type": "point", "filled": false, "strokeWidth": 1, "size": 0},
         "encoding": {
           "x": {"field": "nodes", "type": "quantitative", "scale": {"domain": [40, 80, 160, 320, 640, 1280, 2560, 5120], "range": [0, 59.29, 118.57, 177.86, 237.14, 296.43, 355.71, 415], "nice": false, "zero": false, "padding": 0}, "axis": null},
           "y": {"field": "coverage", "type": "quantitative", "scale": {"domain": [0.9, 0.965], "nice": false, "zero": false, "padding": 0}, "axis": null},
           "color": {"field": "method", "type": "nominal", "scale": {"domain": ["Our method", "Normal", "Expected"], "range": ["#6e6eff", "#3cf03c", "#808080"]}, "legend": {"title": null, "orient": "bottom-right", "symbolOffset": 6.7}},
           "shape": {"field": "method", "type": "nominal", "scale": {"domain": ["Our method", "Normal", "Expected"], "range": ["M-2.29,0H-0.43M0.43,0H2.29M0.43,0A0.43,0.43,0,1,1,-0.43,0A0.43,0.43,0,1,1,0.43,0", "M-2.29,0H-1.43M-1,0H-0.43M0.43,0H1M1.43,0H2.29M-0.43,0H0.43M0,-0.43V0.43M-0.3,-0.3L0.3,0.3M-0.3,0.3L0.3,-0.3", "M-2.29,0H2.29"]}, "legend": {"title": null, "orient": "bottom-right", "symbolOffset": 6.7}}
         }},
        {"data": {"name": "expected"},
         "mark": {"type": "rule", "strokeWidth": 1},
         "encoding": {
           "y": {"field": "coverage", "type": "quantitative", "axis": null},
           "color": {"field": "method", "type": "nominal", "legend": null}
         }},
        {"data": {"name": "covBR"},
         "mark": {"type": "line", "strokeWidth": 1},
         "encoding": {
           "x": {"field": "nodes", "type": "quantitative", "axis": {"orient": "bottom", "values": [40, 60, 80, 120, 160, 320, 640, 1280, 2560, 5120], "format": "d", "title": "Number of nodes"}},
           "y": {"field": "coverage", "type": "quantitative", "axis": {"orient": "left", "values": [0.9, 0.91, 0.92, 0.93, 0.94, 0.95, 0.96], "format": "~g", "title": "Coverage proportion"}},
           "color": {"field": "method", "type": "nominal", "legend": null},
           "strokeDash": {"field": "method", "type": "nominal", "scale": {"domain": ["Our method", "Normal", "Expected"], "range": [[1, 0], [7, 4], [1, 0]]}, "legend": null}
         }},
        {"data": {"name": "covBR"},
         "transform": [{"filter": "datum.method === 'Our method'"}],
         "mark": {"type": "point", "shape": "circle", "size": 30, "filled": false, "strokeWidth": 1},
         "encoding": {
           "x": {"field": "nodes", "type": "quantitative", "axis": {"orient": "top", "values": [40, 60, 80, 120, 160, 320, 640, 1280, 2560, 5120], "labels": false, "title": null}},
           "y": {"field": "coverage", "type": "quantitative", "axis": {"orient": "right", "values": [0.9, 0.91, 0.92, 0.93, 0.94, 0.95, 0.96], "labels": false, "title": null}},
           "color": {"field": "method", "type": "nominal", "legend": null}
         }},
        {"data": {"name": "covBR"},
         "transform": [{"filter": "datum.method === 'Normal'"}],
         "mark": {"type": "point", "shape": "M-1,0H1M0,-1V1M-0.7,-0.7L0.7,0.7M-0.7,0.7L0.7,-0.7", "size": 28, "filled": false, "strokeWidth": 1},
         "encoding": {
           "x": {"field": "nodes", "type": "quantitative", "axis": null},
           "y": {"field": "coverage", "type": "quantitative", "axis": null},
           "color": {"field": "method", "type": "nominal", "legend": null}
         }}
      ]
    }
  ]
}
